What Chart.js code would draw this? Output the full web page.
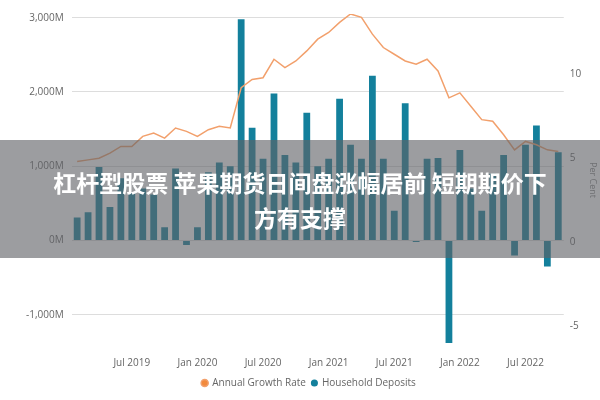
<!DOCTYPE html>
<html><head><meta charset="utf-8">
<script src="https://cdn.jsdelivr.net/npm/chart.js@4"></script>
<style>
body{margin:0;width:600px;height:400px;background:#fff;overflow:hidden;font-family:"Open Sans",sans-serif}
#wrap{position:absolute;left:0;top:0;width:600px;height:400px}
#banner{position:absolute;left:0;top:140px;width:600px;height:118px;background:rgba(95,97,102,0.62);color:#fff;font-family:"Noto Sans CJK SC",sans-serif;font-weight:bold;font-size:23px;line-height:35px;text-align:center;padding-top:25px;box-sizing:border-box}
</style></head><body>
<div id="wrap"><canvas id="c" width="600" height="400"></canvas></div>
<div id="banner">杠杆型股票 苹果期货日间盘涨幅居前 短期期价下<br>方有支撑</div>
<script>
const months = ["Feb 2019","Mar 2019","Apr 2019","May 2019","Jun 2019","Jul 2019","Aug 2019","Sep 2019","Oct 2019","Nov 2019","Dec 2019",
"Jan 2020","Feb 2020","Mar 2020","Apr 2020","May 2020","Jun 2020","Jul 2020","Aug 2020","Sep 2020","Oct 2020","Nov 2020","Dec 2020",
"Jan 2021","Feb 2021","Mar 2021","Apr 2021","May 2021","Jun 2021","Jul 2021","Aug 2021","Sep 2021","Oct 2021","Nov 2021","Dec 2021",
"Jan 2022","Feb 2022","Mar 2022","Apr 2022","May 2022","Jun 2022","Jul 2022","Aug 2022","Sep 2022","Oct 2022"];
const householdDeposits = [310,380,990,450,840,640,700,620,180,970,-60,
180,920,1050,1000,2980,1520,1100,1980,1150,1050,1720,1000,
1100,1910,1290,1100,2220,1100,400,1850,-20,1100,1110,-1380,
1220,700,400,900,1150,-200,1290,1550,-350,1190];
const annualGrowthRate = [4.8,4.9,5.0,5.3,5.7,5.7,6.3,6.5,6.2,6.8,6.6,
6.3,6.7,6.9,6.8,9.2,9.7,9.8,10.9,10.4,10.8,11.4,12.1,
12.5,13.1,13.6,13.4,12.4,11.6,11.2,10.8,10.6,10.9,10.2,8.6,
8.9,8.1,7.3,7.2,6.4,5.5,6.0,5.8,5.5,5.4];
const leftTicks = [-1000,0,1000,2000,3000];
const rightTicks = [-5,0,5,10];
const tickFont = {family:"Open Sans",size:10};
new Chart(document.getElementById('c'),{
  data:{labels:months,datasets:[
    {type:'bar',label:'Household Deposits',data:householdDeposits,yAxisID:'y',backgroundColor:'#13809c',categoryPercentage:1,barPercentage:0.62,order:1},
    {type:'line',label:'Annual Growth Rate',data:annualGrowthRate,yAxisID:'y1',borderColor:'#f2a06c',backgroundColor:'#f28a3c',borderWidth:1.5,pointRadius:0,tension:0,order:0}
  ]},
  options:{responsive:false,animation:false,
    layout:{padding:{left:18,right:0,top:4,bottom:2}},
    plugins:{legend:{position:'bottom',labels:{usePointStyle:true,pointStyle:'circle',boxWidth:5,boxHeight:5,padding:6,color:'#666',font:tickFont}},tooltip:{enabled:false}},
    scales:{
      x:{grid:{display:false},border:{display:false},ticks:{autoSkip:false,maxRotation:0,color:'#666',font:tickFont,
        callback:function(v,i){const m=months[i];return (m.startsWith('Jan')||m.startsWith('Jul'))?m:'';}}},
      y:{position:'left',min:-1420,max:3050,border:{display:false},
        afterBuildTicks:a=>{a.ticks=leftTicks.map(v=>({value:v}));},
        grid:{color:'#ddd',borderDash:[2,2],drawTicks:false},
        ticks:{color:'#666',font:tickFont,padding:8,callback:v=>v.toLocaleString('en-US')+'M'}},
      y1:{position:'right',min:-6.2,max:13.6,border:{display:false},grid:{display:false,drawTicks:false},
        afterBuildTicks:a=>{a.ticks=rightTicks.map(v=>({value:v}));},
        ticks:{color:'#666',font:tickFont,padding:6},
        title:{display:true,text:'Per Cent',color:'#888',font:{family:"Open Sans",size:9},padding:{top:2,bottom:0}}}
    }}
});
</script></body></html>
